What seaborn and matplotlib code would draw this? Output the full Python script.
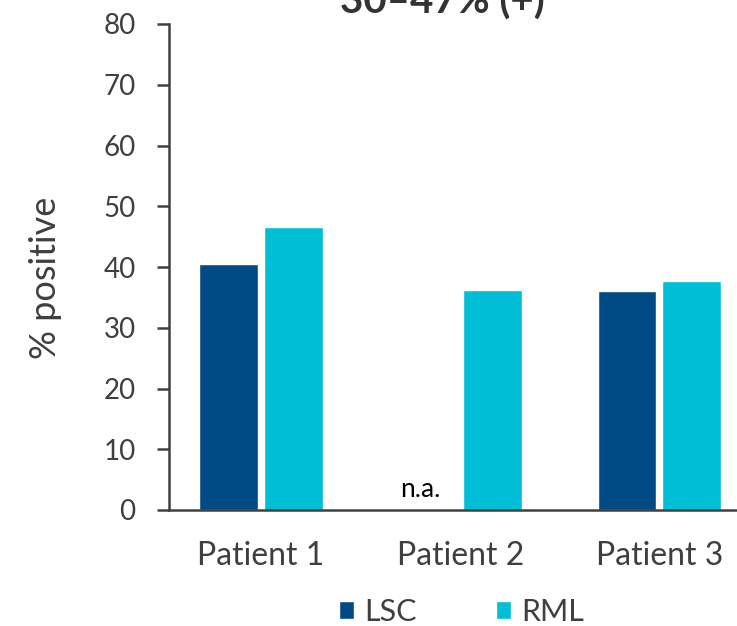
import matplotlib
matplotlib.use("Agg")
import matplotlib.pyplot as plt
import seaborn as sns
import numpy as np
import pandas as pd

# Percentage of positive cells per patient and sample type
patients = ["Patient 1", "Patient 2", "Patient 3"]
lsc_values = [40.5, np.nan, 36.0]   # LSC not available for patient 2
rml_values = [46.6, 36.2, 37.7]
series = ["LSC", "RML"]
colors = ["#004a86", "#00bed6"]
y_ticks = [0, 10, 20, 30, 40, 50, 60, 70, 80]
title = "30\u201347% (+)"

df = pd.DataFrame({
    "patient": patients * 2,
    "sample": ["LSC"] * 3 + ["RML"] * 3,
    "value": lsc_values + rml_values,
})

sns.set_theme(style="white")
plt.rcParams["font.family"] = ["Lato", "DejaVu Sans"]
text_color = "#3f3f3f"

fig = plt.figure(figsize=(7.37, 6.26), dpi=100)
ax = fig.add_axes([169 / 737, 116 / 626, 1 - 169 / 737, 486 / 626])

sns.barplot(data=df, x="patient", y="value", hue="sample", order=patients,
            hue_order=series, palette=colors, width=0.65, gap=0.09,
            saturation=1, ax=ax)

ax.set_ylim(0, 80)
ax.set_xlim(-0.462, 2.39)
ax.set_yticks(y_ticks)
ax.set_xlabel("")
ax.set_ylabel("% positive", fontsize=26, color=text_color)
ax.yaxis.set_label_coords(-0.188, 0.477)

for side in ("top", "right"):
    ax.spines[side].set_visible(False)
for side in ("left", "bottom"):
    ax.spines[side].set_color("#404040")
    ax.spines[side].set_linewidth(1.8)

ax.tick_params(axis="y", direction="out", length=9, width=1.8, color="#404040",
               labelsize=20, labelcolor=text_color, pad=15, left=True)
ax.tick_params(axis="x", length=0, labelsize=23, labelcolor=text_color, pad=22)

# Missing LSC value for patient 2
missing_idx = [i for i, v in enumerate(lsc_values) if np.isnan(v)]
bar_slot = 0.65 / 2
for i in missing_idx:
    ax.text(i - bar_slot / 2 - 0.04, 2.1, "n.a.", ha="center", va="baseline",
            fontsize=19, color="black")

handles, labels = ax.get_legend_handles_labels()
ax.get_legend().remove()
fig.legend(handles, labels, loc="center", bbox_to_anchor=(461.5 / 737, 14 / 626),
           ncol=2, frameon=False, fontsize=22, handlelength=0.5,
           handleheight=0.5, handletextpad=0.33, columnspacing=2.6,
           labelcolor=text_color)

fig.text(442 / 737, (626 - 14) / 626, title, ha="center", va="baseline",
         fontsize=29, fontweight="bold", color="#333333")

fig.savefig("out.png", dpi=100)
